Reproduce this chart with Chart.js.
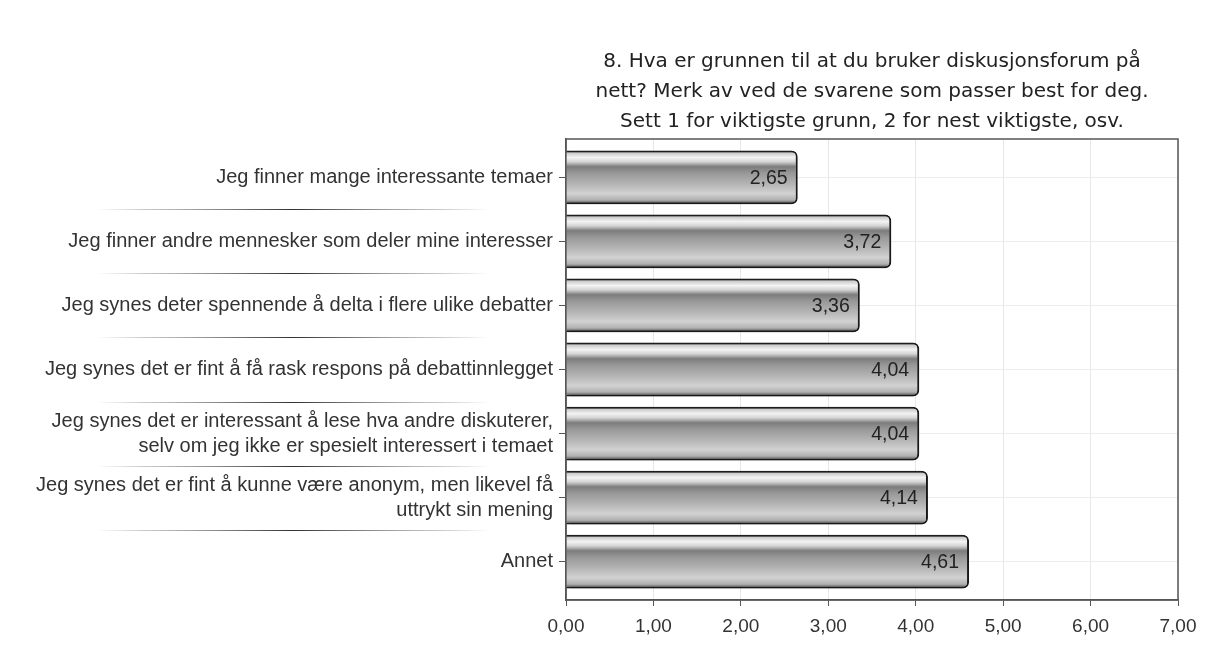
<!DOCTYPE html>
<html lang="no">
<head>
<meta charset="utf-8">
<title>Diskusjonsforum - grunner</title>
<script src="https://cdn.jsdelivr.net/npm/chart.js@4.4.1/dist/chart.umd.min.js"></script>
<style>
  html, body { margin: 0; padding: 0; background: #ffffff; }
  #wrap { width: 1209px; height: 652px; }
</style>
</head>
<body>
<div id="wrap"><canvas id="grunnerChart"></canvas></div>
<script>
// ================= DATA =================
const tittel = [
    "8. Hva er grunnen til at du bruker diskusjonsforum på",
    "nett? Merk av ved de svarene som passer best for deg.",
    "Sett 1 for viktigste grunn, 2 for nest viktigste, osv."
];

const kategorier = [
    "Jeg finner mange interessante temaer",
    "Jeg finner andre mennesker som deler mine interesser",
    "Jeg synes deter spennende å delta i flere ulike debatter",
    "Jeg synes det er fint å få rask respons på debattinnlegget",
    ["Jeg synes det er interessant å lese hva andre diskuterer,", "selv om jeg ikke er spesielt interessert i temaet"],
    ["Jeg synes det er fint å kunne være anonym, men likevel få", "uttrykt sin mening"],
    "Annet"
];

const snitt = [2.65, 3.72, 3.36, 4.04, 4.04, 4.14, 4.61];

const xEtiketter = ["0,00", "1,00", "2,00", "3,00", "4,00", "5,00", "6,00", "7,00"];

// ================= HJELPERE =================
const BAR_ANDEL = 0.84;
const formater = (v) => v.toFixed(2).replace(".", ",");

// Grå "metall"-gradient per stolpe
function stolpeGradient(context) {
    const chart = context.chart;
    const { ctx, chartArea, scales } = chart;
    if (!chartArea || context.dataIndex === undefined) return "#b4b4b4";
    const midt = scales.y.getPixelForValue(context.dataIndex);
    const steg = Math.abs(scales.y.getPixelForValue(1) - scales.y.getPixelForValue(0));
    const halv = steg * BAR_ANDEL / 2;
    const g = ctx.createLinearGradient(0, midt - halv, 0, midt + halv);
    g.addColorStop(0.00, "#2a2a2a");
    g.addColorStop(0.05, "#cccccc");
    g.addColorStop(0.13, "#f3f3f3");
    g.addColorStop(0.21, "#d4d4d4");
    g.addColorStop(0.30, "#7c7c7c");
    g.addColorStop(0.42, "#989898");
    g.addColorStop(0.62, "#b4b4b4");
    g.addColorStop(0.80, "#d2d2d2");
    g.addColorStop(0.92, "#b0b0b0");
    g.addColorStop(1.00, "#3a3a3a");
    return g;
}

// Ramme rundt plottet + skillelinjer mellom etikettene + skygge
const rammePlugin = {
    id: "ramme",
    beforeDatasetsDraw(chart) {
        const { ctx, chartArea: a } = chart;
        const yAkse = chart.scales.y;

        ctx.save();
        ctx.strokeStyle = "#555";
        ctx.lineWidth = 1.5;
        ctx.strokeRect(a.left, a.top, a.width, a.height);

        const x0 = yAkse.left + yAkse.width * 0.17;
        const x1 = yAkse.left + yAkse.width * 0.865;
        for (let i = 0; i < kategorier.length - 1; i++) {
            const yy = Math.round(yAkse.getPixelForValue(i + 0.5)) + 0.5;
            const g = ctx.createLinearGradient(x0, 0, x1, 0);
            g.addColorStop(0, "rgba(180,180,180,0)");
            g.addColorStop(0.12, "rgba(180,180,180,0.7)");
            g.addColorStop(0.5, "rgba(50,50,50,1)");
            g.addColorStop(0.88, "rgba(180,180,180,0.7)");
            g.addColorStop(1, "rgba(180,180,180,0)");
            ctx.strokeStyle = g;
            ctx.lineWidth = 1;
            ctx.beginPath();
            ctx.moveTo(x0, yy);
            ctx.lineTo(x1, yy);
            ctx.stroke();
        }
        ctx.restore();

        ctx.save();
        ctx.shadowColor = "rgba(0,0,0,0.3)";
        ctx.shadowBlur = 4;
        ctx.shadowOffsetX = 2;
        ctx.shadowOffsetY = 2;
    },
    afterDatasetsDraw(chart) {
        const ctx = chart.ctx;
        ctx.restore();

        // Verdier inne i stolpene
        const meta = chart.getDatasetMeta(0);
        ctx.save();
        ctx.font = "19.5px 'Liberation Sans', Arial, sans-serif";
        ctx.fillStyle = "#222";
        ctx.textAlign = "right";
        ctx.textBaseline = "middle";
        meta.data.forEach((bar, i) => {
            ctx.fillText(formater(snitt[i]), bar.x - 10, bar.y + 1);
        });
        ctx.restore();
    }
};

// ================= GRAF =================
const ctx = document.getElementById("grunnerChart").getContext("2d");

new Chart(ctx, {
    type: "bar",
    data: {
        datasets: [{
            label: "Gjennomsnitt",
            data: snitt.map((v, i) => ({ x: v, y: i })),
            backgroundColor: stolpeGradient,
            borderColor: "#1e1e1e",
            borderWidth: 2,
            borderRadius: 6,
            borderSkipped: "start",
            barPercentage: BAR_ANDEL,
            categoryPercentage: 1
        }]
    },
    options: {
        indexAxis: "y",
        responsive: true,
        maintainAspectRatio: false,
        animation: false,
        layout: { padding: { top: 0, right: 31, bottom: 0, left: 0 } },
        plugins: {
            legend: { display: false },
            tooltip: { enabled: false },
            title: {
                display: true,
                text: tittel,
                fullSize: false,
                color: "#222",
                font: { family: "'DejaVu Sans', Verdana, sans-serif", size: 20, weight: "normal", lineHeight: 1.5 },
                padding: { top: 47, bottom: 2 }
            }
        },
        scales: {
            x: {
                min: 0,
                max: 7,
                ticks: {
                    stepSize: 1,
                    padding: 9,
                    color: "#333",
                    font: { family: "'Liberation Sans', Arial, sans-serif", size: 19 },
                    callback: (v, i) => xEtiketter[i]
                },
                grid: { color: "#e8e8e8", tickColor: "#555", tickLength: 6 },
                border: { color: "#555", width: 1.5 },
                afterFit: (s) => { s.height = 52; }
            },
            y: {
                type: "linear",
                reverse: true,
                min: -0.6,
                max: kategorier.length - 0.4,
                bounds: "data",
                offset: false,
                afterBuildTicks: (s) => { s.ticks = kategorier.map((_, i) => ({ value: i })); },
                ticks: {
                    autoSkip: false,
                    padding: 6,
                    color: "#333",
                    font: { family: "'Liberation Sans', Arial, sans-serif", size: 20, lineHeight: 1.25 },
                    callback: (v) => kategorier[v]
                },
                grid: { offset: false, color: "#ececec", tickColor: "#555", tickLength: 7 },
                border: { color: "#555", width: 1.5 },
                afterFit: (s) => { s.width = 566; }
            }
        }
    },
    plugins: [rammePlugin]
});
</script>
</body>
</html>
